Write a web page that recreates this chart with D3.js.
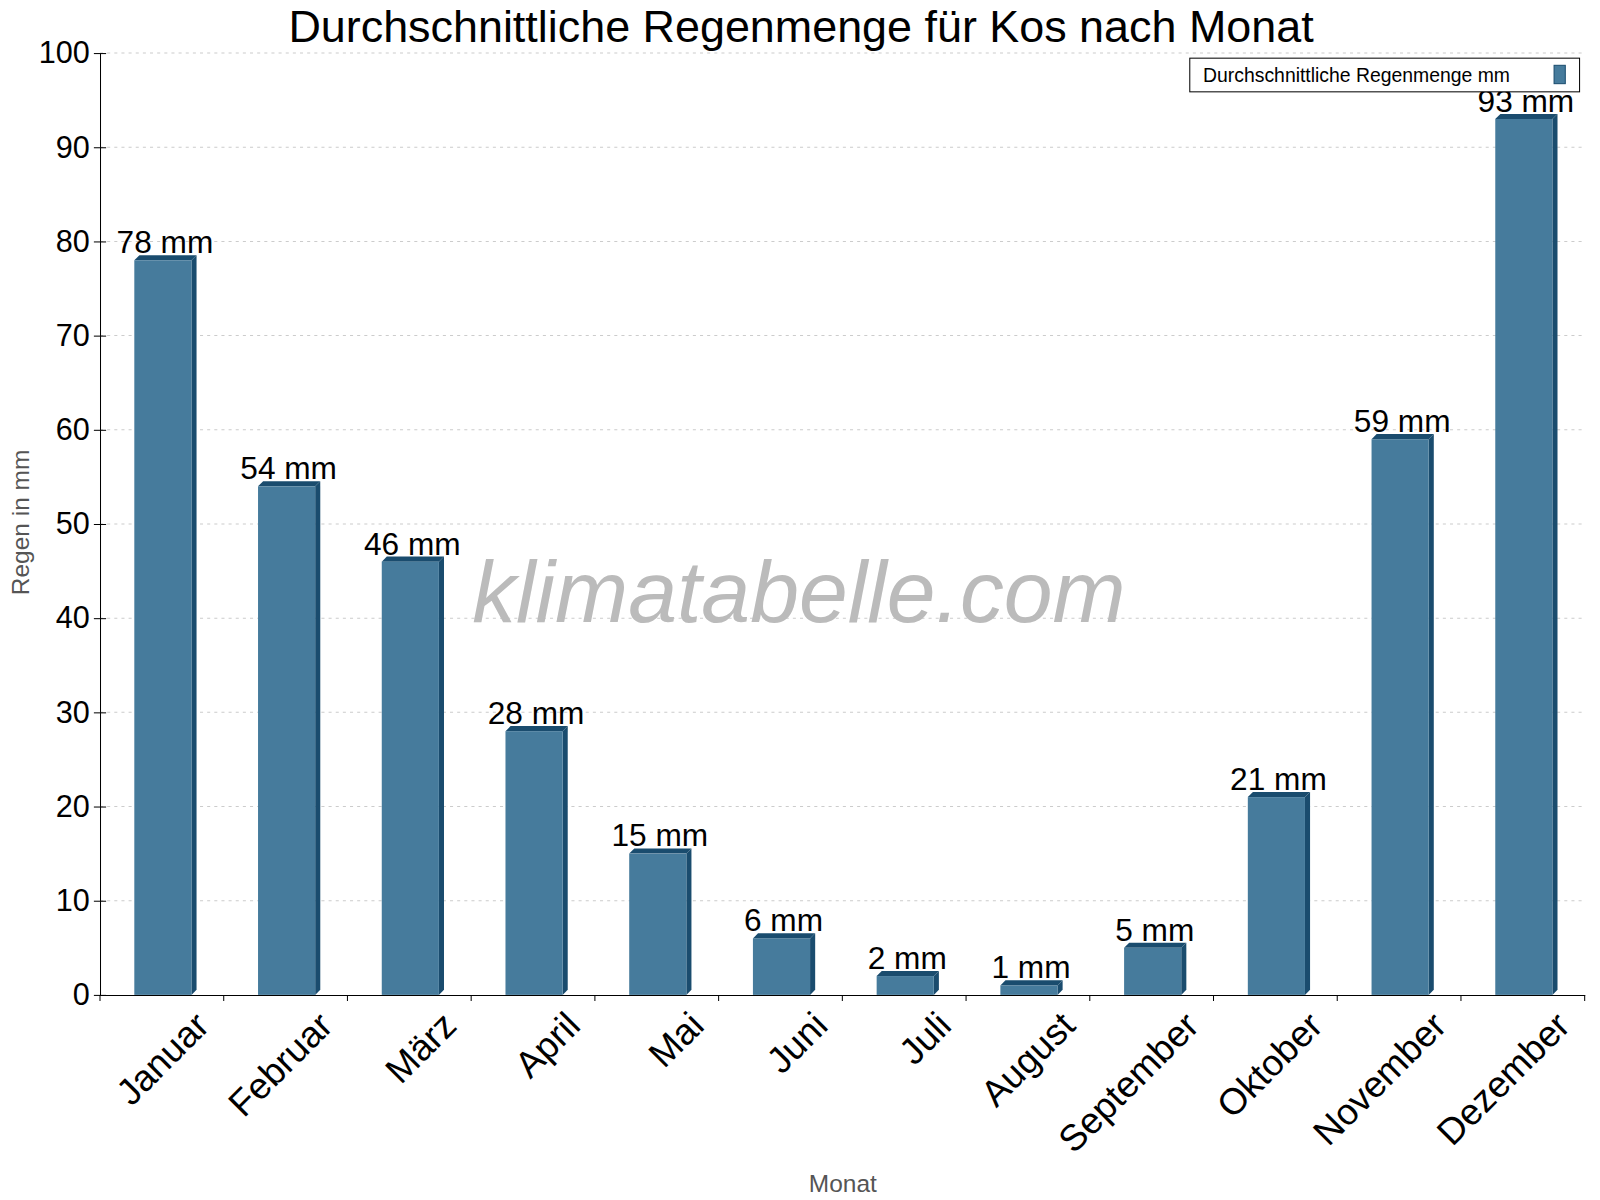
<!DOCTYPE html><html><head><meta charset="utf-8"><script src="https://cdn.jsdelivr.net/npm/d3@7"></script>
<style>body{margin:0;background:#fff}text{font-family:Arial,"Liberation Sans",sans-serif}</style></head><body><svg id="c" width="1600" height="1200"></svg><script>
const months=["Januar","Februar","März","April","Mai","Juni","Juli","August","September","Oktober","November","Dezember"];
const rain=[78,54,46,28,15,6,2,1,5,21,59,93];
const yTicks=[0,10,20,30,40,50,60,70,80,90,100];
const svg=d3.select("#c").append("g").attr("transform","scale(1.0204)");
const L=98,R=1553,T=52,B=975;
const x=d3.scaleBand().domain(months).range([L,R]);
const y=d3.scaleLinear().domain([0,100]).range([B,T]);
svg.append("g").selectAll("line").data(yTicks.slice(1)).join("line").attr("x1",L).attr("x2",R).attr("y1",d=>y(d)).attr("y2",d=>y(d)).attr("stroke","#ccc").attr("stroke-dasharray","3,4");
svg.append("text").attr("x",783).attr("y",610).attr("text-anchor","middle").attr("font-size",86).attr("font-style","italic").attr("fill","#bbb").text("klimatabelle.com");
const d=5;
const g=svg.append("g");
rain.forEach((v,i)=>{const m=months[i];const x0=x(m)+x.bandwidth()/2-27,w=56,yt=y(v);
g.append("polygon").attr("points",`${x0+w},${yt} ${x0+w+d},${yt-d} ${x0+w+d},${B-d} ${x0+w},${B}`).attr("fill","#1a4c6e");
g.append("polygon").attr("points",`${x0},${yt} ${x0+d},${yt-d} ${x0+w+d},${yt-d} ${x0+w},${yt}`).attr("fill","#1a4c6e");
g.append("rect").attr("x",x0).attr("y",yt).attr("width",w).attr("height",B-yt).attr("fill","#467b9c");
g.append("text").attr("x",x0+w/2+2).attr("y",yt-7).attr("text-anchor","middle").attr("font-size",31).text(v+" mm");});
const ya=svg.append("g").attr("transform",`translate(${L},0)`).call(d3.axisLeft(y).tickValues(yTicks).tickSizeInner(8).tickSizeOuter(0));
ya.selectAll(".tick line").attr("x2",-6).attr("x1",6);
ya.selectAll("text").attr("font-size",30).attr("font-family","Arial").attr("fill","#000").attr("x",-10);
const xa=svg.append("g").attr("transform",`translate(0,${B})`).call(d3.axisBottom(x).tickSize(0));
xa.selectAll("text").attr("font-size",36).attr("font-family","Arial").attr("fill","#000").attr("text-anchor","end").attr("transform","translate(28,12) rotate(-45)");
svg.append("g").selectAll("line").data(d3.range(13)).join("line").attr("x1",i=>L+i*x.step()).attr("x2",i=>L+i*x.step()).attr("y1",B).attr("y2",B+6).attr("stroke","#000");
svg.append("text").attr("x",785).attr("y",41).attr("text-anchor","middle").attr("font-size",44).text("Durchschnittliche Regenmenge für Kos nach Monat");
svg.append("text").attr("x",826).attr("y",1168).attr("text-anchor","middle").attr("font-size",24).attr("fill","#555").text("Monat");
svg.append("text").attr("transform","translate(28,512) rotate(-90)").attr("text-anchor","middle").attr("font-size",24).attr("fill","#555").text("Regen in mm");
svg.append("rect").attr("x",1166).attr("y",57).attr("width",382).attr("height",33).attr("fill","#fff").attr("stroke","#000");
svg.append("text").attr("x",1179).attr("y",80).attr("font-size",19).text("Durchschnittliche Regenmenge mm");
svg.append("rect").attr("x",1523).attr("y",64).attr("width",11).attr("height",18).attr("fill","#467b9c").attr("stroke","#1a4c6e");
</script></body></html>
